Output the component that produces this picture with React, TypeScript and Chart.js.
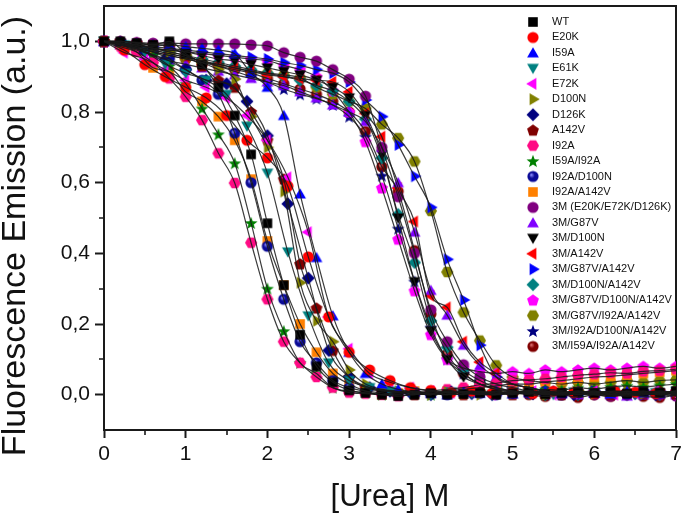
import React, { useEffect, useRef } from 'react';
import { Chart, registerables } from 'chart.js';

Chart.register(...registerables);

const FONT = "'Liberation Sans', Arial, Helvetica, sans-serif";

// urea concentrations (M)
const UREA_020 = [0, 0.2, 0.4, 0.6, 0.8, 1, 1.2, 1.4, 1.6, 1.8, 2, 2.2, 2.4, 2.6, 2.8, 3, 3.2, 3.4, 3.6, 3.8, 4, 4.2, 4.4, 4.6, 4.8, 5, 5.2, 5.4, 5.6, 5.8, 6, 6.2, 6.4, 6.6, 6.8, 7];
const UREA_025 = [0, 0.25, 0.5, 0.75, 1, 1.25, 1.5, 1.75, 2, 2.25, 2.5, 2.75, 3, 3.25, 3.5, 3.75, 4, 4.25, 4.5, 4.75, 5, 5.25, 5.5, 5.75, 6, 6.25, 6.5, 6.75, 7];

// normalised fluorescence emission
const WT = [1.0, 1.0, 0.995, 0.99, 1.0, 0.965, 0.934, 0.87, 0.79, 0.68, 0.485, 0.31, 0.17, 0.08, 0.035, 0.012, 0.005, 0, -0.004, 0, 0.004, 0, 0.002, 0.005, 0, 0.004, 0.008, 0.002, 0.005, 0.008, 0.005, 0.009, 0.003, 0.01, 0.006, 0.01];
const E20K = [1.0, 0.975, 0.934, 0.9, 0.87, 0.84, 0.79, 0.72, 0.67, 0.59, 0.39, 0.22, 0.12, 0.07, 0.04, 0.02, 0.012, 0.006, 0.01, 0.004, 0.008, 0.003, 0.01, 0.006, 0.004, 0.01, 0.007, 0.003, 0.008];
const I59A = [1.0, 1.0, 0.995, 0.99, 0.99, 0.985, 0.98, 0.975, 0.965, 0.91, 0.87, 0.79, 0.568, 0.388, 0.223, 0.12, 0.06, 0.03, 0.015, 0.008, 0.004, 0, 0.008, 0.004, 0.01, 0.002, 0.006, 0.01, 0.003, 0.008, 0.005, 0.002, 0.009, 0.005, 0.003, 0.008];
const E61K = [1.0, 0.99, 0.97, 0.935, 0.91, 0.89, 0.85, 0.76, 0.627, 0.404, 0.223, 0.09, 0.04, 0.02, 0.01, 0.005, 0, 0.008, 0.004, 0, 0.008, 0.004, 0, 0.008, 0.004, 0.01, 0.002, 0.006, 0.009];
const E72K = [1.0, 0.968, 0.95, 0.92, 0.89, 0.87, 0.84, 0.79, 0.72, 0.615, 0.46, 0.22, 0.13, 0.06, 0.035, 0.02, 0.01, 0.005, 0.01, 0, 0.005, 0.01, 0, 0.005, 0.01, 0, 0.005, 0.01, 0.002];
const D100N = [1.0, 0.995, 0.99, 0.98, 0.97, 0.96, 0.94, 0.92, 0.893, 0.787, 0.7, 0.575, 0.317, 0.209, 0.15, 0.07, 0.03, 0.015, 0.01, 0.005, 0, 0.008, 0.004, 0, 0.008, 0.004, 0.01, 0, 0.005, 0.01, 0.002, 0.006, 0.01, 0.003, 0.006, 0.01];
const D126K = [1.0, 0.99, 0.97, 0.95, 0.92, 0.89, 0.88, 0.83, 0.733, 0.54, 0.33, 0.125, 0.05, 0.02, 0.01, 0.005, 0, 0.008, 0.003, 0, 0.006, 0.002, 0.008, 0, 0.005, 0.009, 0.003, 0, 0.006];
const A142V = [1.0, 1.0, 0.995, 0.99, 0.985, 0.96, 0.93, 0.89, 0.87, 0.8, 0.72, 0.61, 0.37, 0.245, 0.125, 0.05, 0.02, 0.01, 0.005, 0, 0.008, 0.004, 0, 0.008, 0.004, 0, 0.008, 0.004, 0, 0.009, 0.005, 0, 0.008, 0.004, 0.01, 0.002];
const I92A = [1.0, 0.985, 0.97, 0.94, 0.895, 0.843, 0.777, 0.683, 0.599, 0.43, 0.27, 0.15, 0.09, 0.05, 0.02, 0.006, 0.003, 0, -0.004, 0.004, 0.01, 0.015, 0.02, 0.028, 0.032, 0.04, 0.042, 0.045, 0.05, 0.055, 0.058, 0.062, 0.06, 0.066, 0.068, 0.072];
const I59A_I92A = [1.0, 0.995, 0.98, 0.96, 0.93, 0.88, 0.81, 0.737, 0.655, 0.486, 0.3, 0.18, 0.09, 0.06, 0.02, 0.01, 0.005, 0, 0.008, 0.004, 0, 0.008, 0.006, 0.01, 0.004, 0.008, 0.012, 0.015, 0.012, 0.02, 0.016, 0.022, 0.025, 0.022, 0.026, 0.03];
const I92A_D100N = [1.0, 0.995, 0.985, 0.97, 0.95, 0.92, 0.89, 0.85, 0.74, 0.6, 0.42, 0.27, 0.15, 0.09, 0.04, 0.02, 0.01, 0.005, 0, 0.008, 0.004, 0, 0.008, 0.004, 0, 0.009, 0.005, 0.01, 0, 0.005, 0.01, 0.006, 0.002, 0.009, 0.005, 0.01];
const I92A_A142V = [1.0, 0.99, 0.97, 0.925, 0.913, 0.857, 0.83, 0.787, 0.72, 0.61, 0.435, 0.31, 0.2, 0.12, 0.06, 0.03, 0.01, 0, 0.005, 0.01, 0.004, 0.01, 0.015, 0.02, 0.025, 0.03, 0.03, 0.036, 0.04, 0.045, 0.05, 0.052, 0.056, 0.06, 0.064, 0.068];
const M3 = [1.0, 1.0, 0.997, 0.995, 0.995, 0.993, 0.993, 0.993, 0.993, 0.99, 0.987, 0.968, 0.955, 0.944, 0.92, 0.893, 0.845, 0.7, 0.56, 0.4, 0.24, 0.15, 0.085, 0.05, 0.03, 0.02, 0.01, 0.005, 0, 0.005, 0, -0.004, 0, 0.004, 0, -0.004];
const M3_G87V = [1.0, 0.99, 0.975, 0.96, 0.945, 0.935, 0.925, 0.915, 0.905, 0.895, 0.885, 0.875, 0.857, 0.84, 0.82, 0.8, 0.773, 0.7, 0.6, 0.46, 0.295, 0.225, 0.14, 0.083, 0.05, 0.03, 0.02, 0.01, 0.005, 0, 0.005, 0, -0.004, 0, 0.005, 0];
const M3_D100N = [1.0, 0.995, 0.99, 0.98, 0.975, 0.97, 0.96, 0.95, 0.945, 0.935, 0.925, 0.915, 0.905, 0.89, 0.87, 0.84, 0.79, 0.68, 0.5, 0.32, 0.18, 0.1, 0.05, 0.03, 0.015, 0.01, 0.005, 0, 0.005, 0, 0, 0.005, 0, 0, 0.005, 0];
const M3_A142V = [1.0, 0.995, 0.985, 0.975, 0.965, 0.955, 0.945, 0.935, 0.925, 0.915, 0.905, 0.9, 0.895, 0.89, 0.885, 0.857, 0.796, 0.73, 0.585, 0.49, 0.28, 0.247, 0.15, 0.092, 0.06, 0.03, 0.02, 0.01, 0.005, 0.01, 0.005, 0, 0.01, 0.005, 0, 0.005];
const M3_G87V_A142V = [1.0, 0.995, 0.99, 0.985, 0.98, 0.975, 0.97, 0.965, 0.96, 0.955, 0.95, 0.94, 0.932, 0.92, 0.91, 0.885, 0.834, 0.787, 0.707, 0.618, 0.53, 0.383, 0.268, 0.14, 0.05, 0.03, 0.02, 0.01, 0, 0.005, 0.01, 0, 0.005, 0, 0.01, 0.005];
const M3_D100N_A142V = [1.0, 0.995, 0.99, 0.98, 0.97, 0.96, 0.95, 0.94, 0.93, 0.92, 0.91, 0.9, 0.89, 0.875, 0.86, 0.83, 0.78, 0.67, 0.51, 0.374, 0.209, 0.134, 0.07, 0.04, 0.02, 0.01, 0.005, 0, 0.005, 0, 0.005, 0, 0, 0.005, 0, 0.005];
const M3_G87V_D100N_A142V = [1.0, 0.995, 0.99, 0.98, 0.975, 0.97, 0.965, 0.96, 0.955, 0.95, 0.945, 0.932, 0.92, 0.9, 0.86, 0.8, 0.716, 0.585, 0.44, 0.294, 0.17, 0.1, 0.075, 0.065, 0.06, 0.065, 0.06, 0.07, 0.065, 0.07, 0.075, 0.07, 0.075, 0.08, 0.075, 0.08];
const M3_G87V_I92A_A142V = [1.0, 0.99, 0.98, 0.97, 0.96, 0.95, 0.94, 0.935, 0.925, 0.915, 0.91, 0.905, 0.897, 0.87, 0.85, 0.83, 0.81, 0.765, 0.726, 0.66, 0.52, 0.347, 0.233, 0.153, 0.083, 0.05, 0.04, 0.035, 0.03, 0.035, 0.03, 0.035, 0.04, 0.035, 0.04, 0.042];
const M3_I92A_D100N_A142V = [1.0, 0.995, 0.985, 0.975, 0.965, 0.955, 0.945, 0.93, 0.915, 0.9, 0.885, 0.865, 0.85, 0.838, 0.82, 0.787, 0.73, 0.62, 0.47, 0.32, 0.19, 0.1, 0.06, 0.03, 0.02, 0.01, 0.005, 0, 0.005, 0.01, 0.005, 0, 0.005, 0.01, 0, 0.005];
const M3_I59A_I92A_A142V = [1.0, 0.99, 0.98, 0.97, 0.96, 0.95, 0.94, 0.93, 0.92, 0.91, 0.895, 0.88, 0.865, 0.85, 0.83, 0.8, 0.745, 0.645, 0.575, 0.408, 0.228, 0.115, 0.06, 0.03, 0.015, 0.005, 0, -0.005, 0, -0.008, 0, -0.005, 0, -0.005, -0.008, 0];

// axis decorations
const X_MINOR = [0.5, 1.5, 2.5, 3.5, 4.5, 5.5, 6.5];
const Y_MINOR = [0.1, 0.3, 0.5, 0.7, 0.9];

type Shape = 'square' | 'circle' | 'sphere' | 'triUp' | 'triDown' | 'triLeft' | 'triRight' | 'diamond' | 'pentagon' | 'hexagon' | 'star';

const SERIES: { name: string; x: number[]; y: number[]; shape: Shape; color: string; hi?: string }[] = [
  { name: 'WT', x: UREA_020, y: WT, shape: 'square', color: '#000000' },
  { name: 'E20K', x: UREA_025, y: E20K, shape: 'circle', color: '#ff0000' },
  { name: 'I59A', x: UREA_020, y: I59A, shape: 'triUp', color: '#0000ff' },
  { name: 'E61K', x: UREA_025, y: E61K, shape: 'triDown', color: '#008080' },
  { name: 'E72K', x: UREA_025, y: E72K, shape: 'triLeft', color: '#ff00ff' },
  { name: 'D100N', x: UREA_020, y: D100N, shape: 'triRight', color: '#808000' },
  { name: 'D126K', x: UREA_025, y: D126K, shape: 'diamond', color: '#000080' },
  { name: 'A142V', x: UREA_020, y: A142V, shape: 'pentagon', color: '#800000' },
  { name: 'I92A', x: UREA_020, y: I92A, shape: 'hexagon', color: '#ff0a84' },
  { name: 'I59A/I92A', x: UREA_020, y: I59A_I92A, shape: 'star', color: '#008000' },
  { name: 'I92A/D100N', x: UREA_020, y: I92A_D100N, shape: 'sphere', color: '#0a0a96', hi: '#8c8cff' },
  { name: 'I92A/A142V', x: UREA_020, y: I92A_A142V, shape: 'square', color: '#ff8000' },
  { name: '3M (E20K/E72K/D126K)', x: UREA_020, y: M3, shape: 'circle', color: '#800080' },
  { name: '3M/G87V', x: UREA_020, y: M3_G87V, shape: 'triUp', color: '#8000ff' },
  { name: '3M/D100N', x: UREA_020, y: M3_D100N, shape: 'triDown', color: '#000000' },
  { name: '3M/A142V', x: UREA_020, y: M3_A142V, shape: 'triLeft', color: '#ff0000' },
  { name: '3M/G87V/A142V', x: UREA_020, y: M3_G87V_A142V, shape: 'triRight', color: '#0000ff' },
  { name: '3M/D100N/A142V', x: UREA_020, y: M3_D100N_A142V, shape: 'diamond', color: '#008080' },
  { name: '3M/G87V/D100N/A142V', x: UREA_020, y: M3_G87V_D100N_A142V, shape: 'pentagon', color: '#ff00ff' },
  { name: '3M/G87V/I92A/A142V', x: UREA_020, y: M3_G87V_I92A_A142V, shape: 'hexagon', color: '#808000' },
  { name: '3M/I92A/D100N/A142V', x: UREA_020, y: M3_I92A_D100N_A142V, shape: 'star', color: '#000080' },
  { name: '3M/I59A/I92A/A142V', x: UREA_020, y: M3_I59A_I92A_A142V, shape: 'sphere', color: '#800000', hi: '#e07070' },
];

function makeMarker(shape: Shape, color: string, hi?: string): HTMLCanvasElement {
  const s = 16;
  const c = document.createElement('canvas');
  c.width = s;
  c.height = s;
  const g = c.getContext('2d')!;
  const m = s / 2;
  const poly = (n: number, r: number, rot: number, dy = 0) => {
    for (let i = 0; i < n; i++) {
      const a = rot + (i * 2 * Math.PI) / n;
      const px = m + r * Math.cos(a);
      const py = m + dy + r * Math.sin(a);
      if (i === 0) g.moveTo(px, py);
      else g.lineTo(px, py);
    }
    g.closePath();
  };
  g.fillStyle = color;
  g.beginPath();
  switch (shape) {
    case 'square':
      g.rect(m - 4.8, m - 4.8, 9.6, 9.6);
      break;
    case 'circle':
      g.arc(m, m, 5.6, 0, Math.PI * 2);
      break;
    case 'sphere': {
      const grd = g.createRadialGradient(m - 1.8, m - 1.8, 0.3, m, m, 5.8);
      grd.addColorStop(0, hi || '#ffffff');
      grd.addColorStop(0.45, color);
      grd.addColorStop(1, color);
      g.fillStyle = grd;
      g.arc(m, m, 5.6, 0, Math.PI * 2);
      break;
    }
    case 'triUp':
      poly(3, 6.8, -Math.PI / 2, 1);
      break;
    case 'triDown':
      poly(3, 6.8, Math.PI / 2, -1);
      break;
    case 'triLeft':
      poly(3, 6.8, Math.PI);
      break;
    case 'triRight':
      poly(3, 6.8, 0);
      break;
    case 'diamond':
      poly(4, 6.5, 0);
      break;
    case 'pentagon':
      poly(5, 6.2, -Math.PI / 2, 0.5);
      break;
    case 'hexagon':
      poly(6, 6.1, 0);
      break;
    case 'star': {
      for (let i = 0; i < 10; i++) {
        const r = i % 2 === 0 ? 6.8 : 2.8;
        const a = -Math.PI / 2 + (i * Math.PI) / 5;
        const px = m + r * Math.cos(a);
        const py = m + 0.6 + r * Math.sin(a);
        if (i === 0) g.moveTo(px, py);
        else g.lineTo(px, py);
      }
      g.closePath();
      break;
    }
  }
  g.fill();
  return c;
}

export default function App() {
  const ref = useRef<HTMLCanvasElement>(null);

  useEffect(() => {
    document.body.style.margin = '0';
    const canvas = ref.current;
    if (!canvas) return;
    const markers = SERIES.map((s) => makeMarker(s.shape, s.color, s.hi));

    const pointSets = SERIES.map((s, i) => ({
      label: s.name,
      data: s.x.map((x, j) => ({ x, y: s.y[j] })),
      showLine: false,
      pointStyle: markers[i] as any,
      pointRadius: 5,
      pointHoverRadius: 5,
      backgroundColor: s.color,
      borderColor: s.color,
      order: 1,
      clip: { left: 10, top: 10, right: 0, bottom: 10 } as any,
    }));
    const lineSets = SERIES.map((s) => ({
      label: s.name + ' fit',
      data: s.x.map((x, j) => ({ x, y: s.y[j] })),
      showLine: true,
      borderColor: 'rgba(25,25,25,0.85)',
      borderWidth: 1.2,
      pointRadius: 0,
      pointHoverRadius: 0,
      cubicInterpolationMode: 'monotone' as const,
      order: 0,
    }));

    const framePlugin = {
      id: 'frameAndMinorTicks',
      beforeDatasetsDraw(chart: any) {
        const { ctx, chartArea: ca, scales } = chart;
        ctx.save();
        ctx.strokeStyle = '#1a1a1a';
        ctx.lineWidth = 2;
        ctx.strokeRect(ca.left, ca.top, ca.right - ca.left, ca.bottom - ca.top);
        ctx.lineWidth = 1.6;
        ctx.beginPath();
        for (const v of X_MINOR) {
          const px = Math.round(scales.x.getPixelForValue(v));
          ctx.moveTo(px, ca.bottom);
          ctx.lineTo(px, ca.bottom + 5);
        }
        for (const v of Y_MINOR) {
          const py = Math.round(scales.y.getPixelForValue(v));
          ctx.moveTo(ca.left, py);
          ctx.lineTo(ca.left - 5, py);
        }
        ctx.stroke();
        ctx.restore();
      },
    };

    const legendPlugin = {
      id: 'insideLegend',
      afterDatasetsDraw(chart: any) {
        const { ctx, chartArea: ca } = chart;
        const x0 = ca.right - 143;
        const y0 = ca.top + 16;
        const step = 15.45;
        ctx.save();
        ctx.font = `11px ${FONT}`;
        ctx.textBaseline = 'middle';
        ctx.textAlign = 'left';
        ctx.fillStyle = '#111';
        SERIES.forEach((s, i) => {
          const y = y0 + i * step;
          ctx.drawImage(markers[i], x0 - 8, y - 8);
          ctx.fillText(s.name, x0 + 19, y);
        });
        ctx.restore();
      },
    };

    const yTitlePlugin = {
      id: 'yTitle',
      afterDraw(chart: any) {
        const { ctx, chartArea: ca } = chart;
        ctx.save();
        ctx.translate(16, (ca.top + ca.bottom) / 2 + 18);
        ctx.rotate(-Math.PI / 2);
        ctx.font = `34px ${FONT}`;
        ctx.fillStyle = '#111';
        ctx.textAlign = 'center';
        ctx.textBaseline = 'middle';
        ctx.fillText('Fluorescence Emission (a.u.)', 0, 0);
        ctx.restore();
      },
    };

    const chart = new Chart(canvas, {
      type: 'scatter',
      data: { datasets: [...pointSets, ...lineSets] as any },
      options: {
        responsive: false,
        animation: false,
        devicePixelRatio: 1,
        layout: { padding: { top: 4, right: 10, left: 0, bottom: 0 } },
        plugins: {
          legend: { display: false },
          tooltip: { enabled: false },
        },
        scales: {
          x: {
            type: 'linear',
            min: 0,
            max: 7,
            afterFit: (s: any) => {
              s.height = 88;
              s.paddingLeft = 0;
              s.paddingRight = 0;
            },
            ticks: {
              stepSize: 0.5,
              autoSkip: false,
              maxRotation: 0,
              padding: 4,
              color: '#111',
              font: { family: FONT, size: 21 },
              callback: (v: any) => (Number.isInteger(Number(v)) ? String(v) : ''),
            },
            grid: {
              drawOnChartArea: false,
              drawTicks: true,
              tickLength: 8,
              tickWidth: 2,
              tickColor: (c: any) => (Number.isInteger(c.tick?.value) ? '#1a1a1a' : 'rgba(0,0,0,0)'),
            },
            border: { display: false },
            title: {
              display: true,
              text: '[Urea] M',
              color: '#111',
              font: { family: FONT, size: 31 },
              padding: { top: 0, bottom: 2 },
            },
          },
          y: {
            type: 'linear',
            min: -0.1,
            max: 1.1,
            afterFit: (s: any) => {
              s.width = 104;
              s.paddingTop = 0;
              s.paddingBottom = 0;
            },
            ticks: {
              stepSize: 0.1,
              autoSkip: false,
              padding: 5,
              color: '#111',
              font: { family: FONT, size: 21 },
              callback: (v: any) => {
                const k = Math.round(Number(v) * 10);
                return k >= 0 && k <= 10 && k % 2 === 0 ? (k / 10).toFixed(1).replace('.', ',') : '';
              },
            },
            grid: {
              drawOnChartArea: false,
              drawTicks: true,
              tickLength: 9,
              tickWidth: 2,
              tickColor: (c: any) => {
                const k = Math.round(Number(c.tick?.value) * 10);
                return k >= 0 && k <= 10 && k % 2 === 0 ? '#1a1a1a' : 'rgba(0,0,0,0)';
              },
            },
            border: { display: false },
            title: { display: false },
          },
        },
      },
      plugins: [framePlugin, legendPlugin, yTitlePlugin],
    });

    return () => chart.destroy();
  }, []);

  return <canvas ref={ref} width={686} height={518} style={{ display: 'block' }} />;
}
